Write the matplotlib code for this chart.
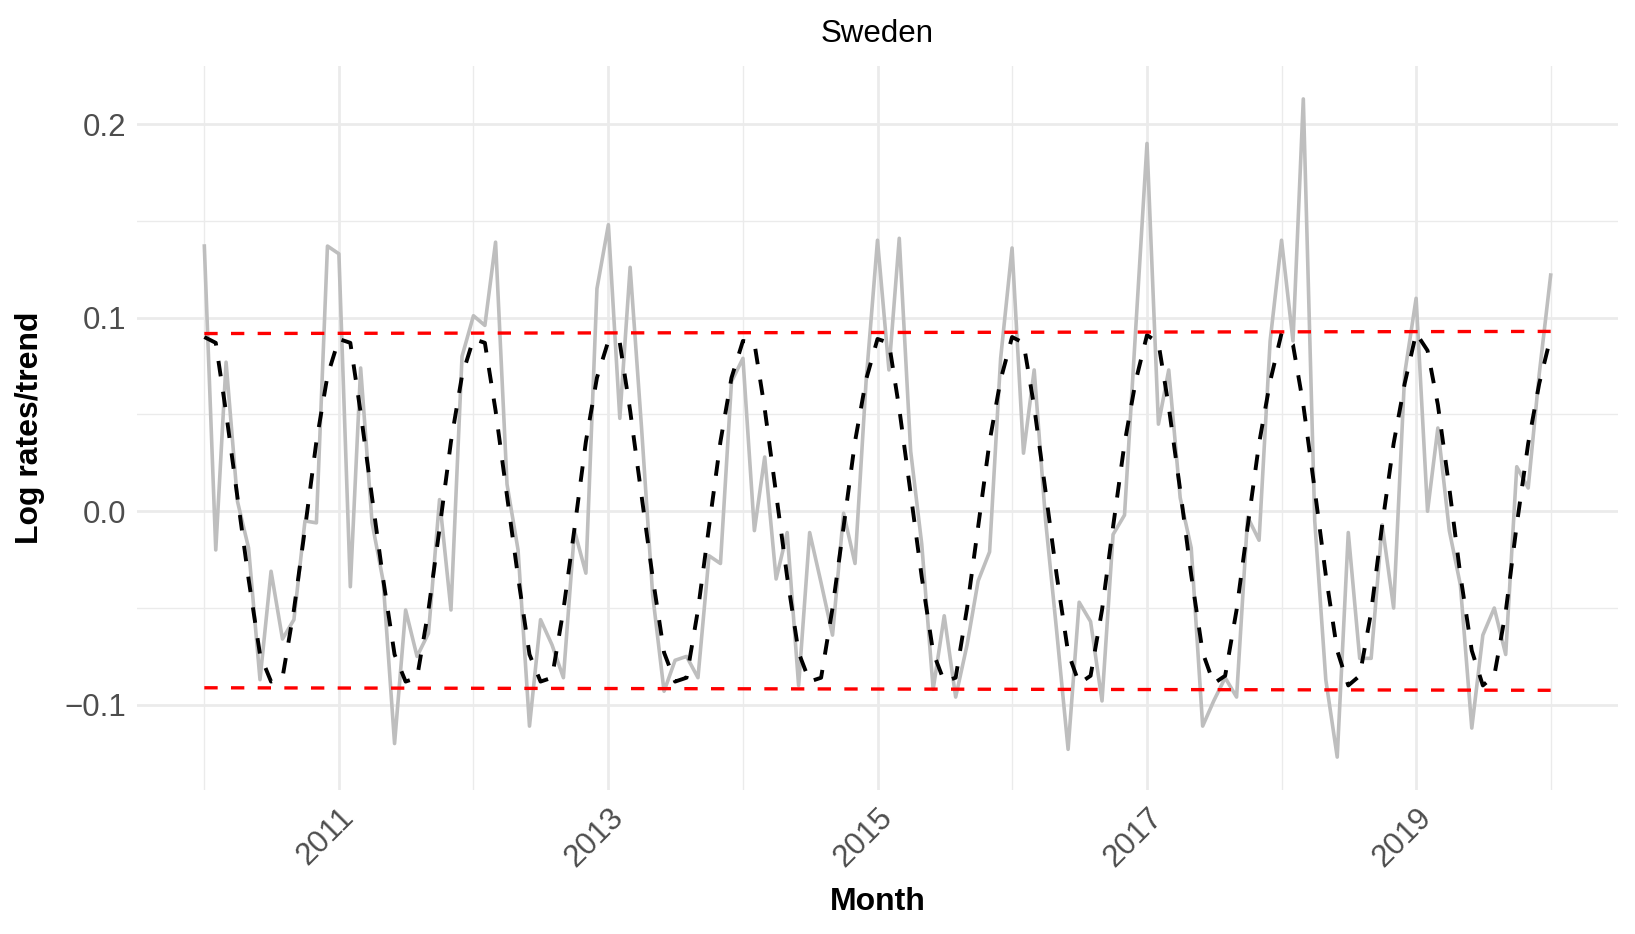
import matplotlib
matplotlib.use("Agg")
import matplotlib.pyplot as plt
import matplotlib.dates as mdates
import numpy as np
import pandas as pd

# Monthly observations, Jan 2010 - Jan 2020
months = pd.date_range("2010-01-01", "2020-01-01", freq="MS")

# Log rates divided by trend (grey line)
log_rates = [
    0.137, -0.020, 0.077, 0.005, -0.019, -0.087, -0.031, -0.066, -0.056, -0.005, -0.006, 0.137,
    0.133, -0.039, 0.074, -0.006, -0.036, -0.120, -0.051, -0.075, -0.063, 0.006, -0.051, 0.080,
    0.101, 0.096, 0.139, 0.014, -0.020, -0.111, -0.056, -0.069, -0.086, -0.010, -0.032, 0.115,
    0.148, 0.048, 0.126, 0.043, -0.043, -0.093, -0.077, -0.075, -0.086, -0.023, -0.027, 0.067,
    0.079, -0.010, 0.028, -0.035, -0.011, -0.090, -0.011, -0.037, -0.064, -0.001, -0.027, 0.067,
    0.140, 0.073, 0.141, 0.031, -0.017, -0.092, -0.054, -0.096, -0.069, -0.036, -0.021, 0.079,
    0.136, 0.030, 0.073, -0.005, -0.062, -0.123, -0.047, -0.057, -0.098, -0.012, -0.002, 0.093,
    0.190, 0.045, 0.073, 0.007, -0.019, -0.111, -0.098, -0.086, -0.096, -0.003, -0.015, 0.088,
    0.140, 0.088, 0.213, -0.005, -0.087, -0.127, -0.011, -0.076, -0.076, -0.007, -0.050, 0.071,
    0.110, 0.000, 0.043, -0.010, -0.038, -0.112, -0.064, -0.050, -0.074, 0.023, 0.012, 0.071,
    0.122,
]

# Seasonal component (black dashed line)
seasonal = [
    0.090, 0.087, 0.051, 0.007, -0.035, -0.074, -0.088, -0.086, -0.051, -0.009, 0.036, 0.070,
    0.089, 0.087, 0.051, 0.007, -0.035, -0.074, -0.088, -0.086, -0.051, -0.009, 0.036, 0.070,
    0.089, 0.087, 0.052, 0.008, -0.034, -0.074, -0.088, -0.086, -0.051, -0.009, 0.036, 0.069,
    0.088, 0.087, 0.052, 0.008, -0.034, -0.073, -0.088, -0.086, -0.051, -0.008, 0.036, 0.069,
    0.088, 0.087, 0.053, 0.009, -0.034, -0.073, -0.088, -0.086, -0.050, -0.008, 0.036, 0.068,
    0.089, 0.087, 0.053, 0.009, -0.034, -0.073, -0.088, -0.086, -0.050, -0.008, 0.036, 0.068,
    0.090, 0.087, 0.054, 0.010, -0.033, -0.073, -0.089, -0.085, -0.051, -0.008, 0.035, 0.067,
    0.091, 0.087, 0.054, 0.011, -0.033, -0.073, -0.089, -0.085, -0.051, -0.008, 0.035, 0.067,
    0.092, 0.086, 0.055, 0.011, -0.033, -0.072, -0.090, -0.085, -0.052, -0.007, 0.035, 0.066,
    0.092, 0.083, 0.055, 0.012, -0.033, -0.072, -0.090, -0.085, -0.052, -0.007, 0.035, 0.066,
    0.090,
]

# Bands (red dashed lines), start and end values
band_dates = [months[0], months[-1]]
upper_band = [0.0918, 0.0929]
lower_band = [-0.0912, -0.0925]

plt.rcParams['font.family'] = ['Liberation Sans', 'DejaVu Sans']

fig = plt.figure(figsize=(16.35, 9.34), dpi=100)
ax = fig.add_axes([0.0838, 0.1542, 0.9058, 0.7751])

# Lines
ax.plot(months, log_rates, color='#BEBEBE', lw=2.6, zorder=3)
ax.plot(months, seasonal, color='black', lw=2.8, linestyle=(0, (4, 4)), zorder=4)
ax.plot(band_dates, upper_band, color='#FF0000', lw=2.4, linestyle=(0, (4, 4)), zorder=5)
ax.plot(band_dates, lower_band, color='#FF0000', lw=2.4, linestyle=(0, (4, 4)), zorder=5)

ax.margins(x=0.05, y=0.05)

# Ticks: odd years major, even years minor
ax.xaxis.set_major_formatter(mdates.DateFormatter('%Y'))
major_years = [pd.Timestamp(f"{y}-01-01") for y in range(2011, 2020, 2)]
minor_years = [pd.Timestamp(f"{y}-01-01") for y in range(2010, 2021, 2)]
ax.set_xticks(major_years)
ax.set_xticks(minor_years, minor=True)
ax.set_yticks([-0.1, 0.0, 0.1, 0.2])
ax.set_yticks([-0.05, 0.05, 0.15], minor=True)
ax.set_yticklabels(['\u22120.1', '0.0', '0.1', '0.2'])

# Grid like theme_minimal
ax.grid(which='major', color='#EBEBEB', lw=2.0)
ax.grid(which='minor', color='#EBEBEB', lw=1.0)
ax.set_axisbelow(True)
for s in ax.spines.values():
    s.set_visible(False)
ax.tick_params(which='both', length=0)
ax.tick_params(axis='y', labelsize=22.5, labelcolor='#4D4D4D', pad=8)
ax.tick_params(axis='x', labelsize=22.5, labelcolor='#4D4D4D', pad=9)
for lbl in ax.get_xticklabels():
    lbl.set_rotation(45)
    lbl.set_ha('right')
    lbl.set_rotation_mode('anchor')

ax.set_xlabel('Month', fontsize=23, fontweight='bold', labelpad=10)
ax.set_ylabel('Log rates/trend', fontsize=23, fontweight='bold', labelpad=14)
ax.set_title('Sweden', fontsize=22.5, pad=17)

fig.savefig('out.png', dpi=100)
